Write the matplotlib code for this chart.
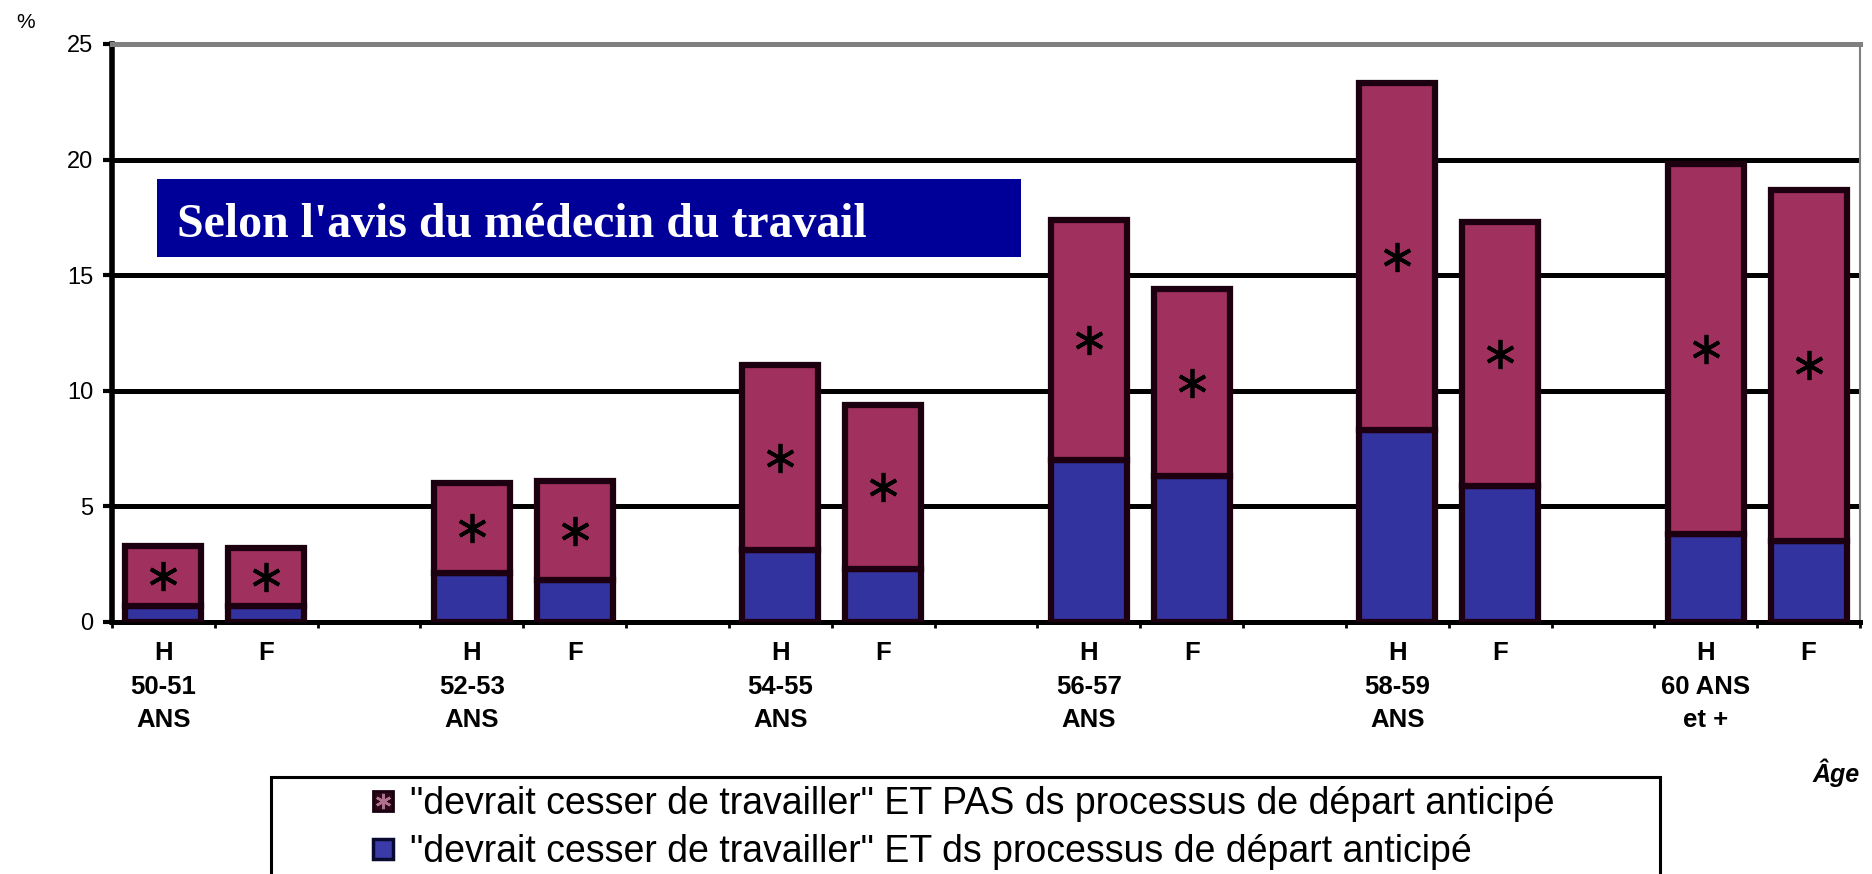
import matplotlib
matplotlib.use('Agg')
import matplotlib.pyplot as plt
from matplotlib.lines import Line2D
from matplotlib.patches import Rectangle
from matplotlib.ticker import NullFormatter
import numpy as np

plt.rcParams['font.family'] = ['Liberation Sans', 'DejaVu Sans']

# ---- data ----
age_groups = ['50-51\nANS', '52-53\nANS', '54-55\nANS', '56-57\nANS', '58-59\nANS', '60 ANS\net +']
sexes = ['H', 'F']
# % for each bar, order: H, F for each age group
dans_processus = [0.7, 0.7, 2.1, 1.8, 3.1, 2.3, 7.0, 6.3, 8.3, 5.9, 3.8, 3.5]
pas_processus = [2.6, 2.5, 3.9, 4.3, 8.0, 7.1, 10.4, 8.1, 15.0, 11.4, 16.0, 15.2]
y_ticks = [0, 5, 10, 15, 20, 25]
legend_labels = ['"devrait cesser de travailler" ET PAS ds processus de départ anticipé',
                 '"devrait cesser de travailler" ET ds processus de départ anticipé']
title_text = "Selon l'avis du médecin du travail"
y_unit = '%'
x_title = 'Âge'

# ---- layout helpers ----
W, H = 1872, 874
fig = plt.figure(figsize=(W / 100, H / 100), dpi=100)
fig.patch.set_facecolor('white')


def fx(px):
    return px / W


def fy(py):
    return 1 - py / H


ax = fig.add_axes([fx(112), fy(622), fx(1860) - fx(112), fy(44) - fy(622)])

x = []
labels = []
for g, ag in enumerate(age_groups):
    for s, sx in enumerate(sexes):
        x.append(3 * g + s + 0.5)
        labels.append(sx + '\n' + ag if sx == 'H' else sx)
x = np.array(x)
blue = np.array(dans_processus)
red = np.array(pas_processus)

edge = '#1c0010'
ax.bar(x, blue, width=0.74, color='#3333a0', edgecolor=edge, linewidth=4.5, zorder=3)
ax.bar(x, red, bottom=blue, width=0.74, color='#a0305e', edgecolor=edge, linewidth=4.5, zorder=3)
ax.plot(x, blue + red / 2, ls='', marker=(6, 2, 0), ms=21, mew=2.7, color='black', zorder=4)

ax.set_xlim(0, 17)
ax.set_ylim(0, 25)

# x ticks: marks at category boundaries, labels at bar centres
ax.set_xticks(np.arange(0, 18))
ax.xaxis.set_major_formatter(NullFormatter())
ax.set_xticks(x, minor=True)
ax.set_xticklabels(labels, minor=True, fontweight='bold', fontsize=18.5, linespacing=1.5)
ax.tick_params(axis='x', which='major', length=4.3, width=2, direction='out', color='black')
ax.tick_params(axis='x', which='minor', length=0, pad=14)

ax.set_yticks(y_ticks)
ax.tick_params(axis='y', which='major', length=6.5, width=3, direction='out', labelsize=17, pad=7)

ax.yaxis.grid(True, color='black', linewidth=3.6)
ax.set_axisbelow(True)
gl = ax.get_ygridlines()
gl[0].set_visible(False)
gl[-1].set_visible(False)

ax.spines['left'].set_color('black')
ax.spines['left'].set_linewidth(4)
ax.spines['bottom'].set_color('black')
ax.spines['bottom'].set_linewidth(3.6)
ax.spines['top'].set_color('#808080')
ax.spines['top'].set_linewidth(3.6)
ax.spines['right'].set_color('#808080')
ax.spines['right'].set_linewidth(1.5)

# title box
fig.add_artist(Rectangle((fx(157), fy(257)), fx(1021) - fx(157), fy(179) - fy(257),
                         transform=fig.transFigure, facecolor='#000099', edgecolor='none', zorder=5))
fig.text(fx(177), fy(237), title_text, color='white', fontsize=34.5, fontweight='bold',
         family=['Liberation Serif', 'DejaVu Serif'], va='baseline', ha='left', zorder=6)

# unit and axis title
fig.text(fx(26), fy(23), y_unit, ha='center', va='center', fontsize=15)
fig.text(fx(1836), fy(773), x_title, ha='center', va='center', fontsize=18,
         fontweight='bold', fontstyle='italic')

# legend
fig.add_artist(Rectangle((fx(271), fy(890)), fx(1660) - fx(271), fy(777) - fy(890),
                         transform=fig.transFigure, facecolor='white', edgecolor='black',
                         linewidth=2.2, zorder=5))
h_red = (Line2D([], [], ls='', marker='s', ms=15, mfc='#2a0818', mec='#1a0010', mew=2),
         Line2D([], [], ls='', marker=(6, 2, 0), ms=11, mec='#b07090', mew=1.8))
h_blue = Line2D([], [], ls='', marker='s', ms=15, mfc='#3a3aa8', mec='#0a0a30', mew=2.5)
leg = fig.legend([h_red, h_blue], legend_labels, loc='upper left',
                 bbox_to_anchor=(fx(368), fy(786)), frameon=False, borderpad=0,
                 borderaxespad=0, handlelength=0.82, handletextpad=0.3, labelspacing=0.32,
                 prop={'family': 'Liberation Sans', 'size': 27})
leg.set_zorder(6)

fig.savefig('out.png', dpi=100)
